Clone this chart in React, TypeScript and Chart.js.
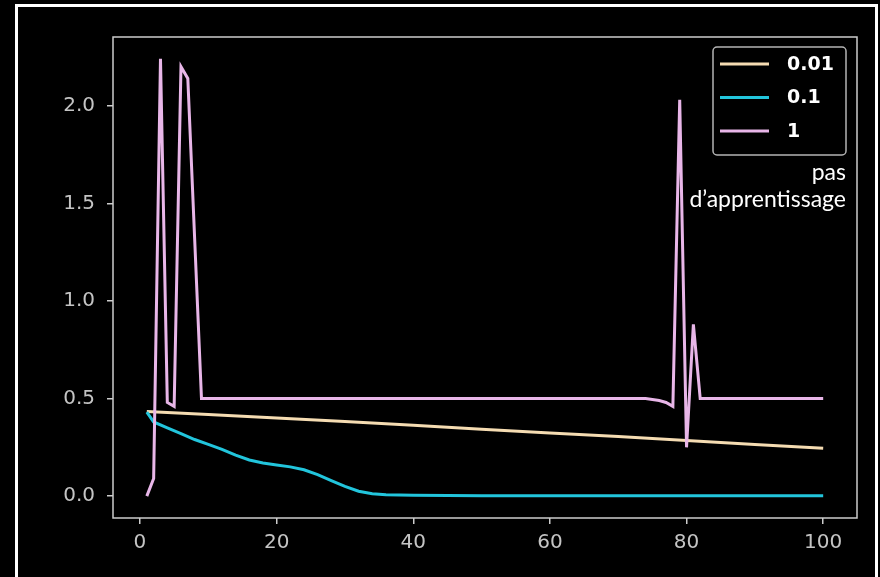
import React, { useEffect, useRef } from "react";
import { Chart, registerables } from "chart.js";

Chart.register(...registerables);

// ---- data ----
const seriesLabels = ["0.01", "0.1", "1"];
const seriesColors = ["#f5dcb2", "#22c5dc", "#e8b6e8"];

const stepsLr001 = [1, 10, 20, 30, 40, 50, 60, 70, 80, 90, 100];
const lossLr001 = [0.434, 0.418, 0.4, 0.382, 0.363, 0.343, 0.324, 0.305, 0.285, 0.265, 0.245];

const stepsLr01 = [1, 2, 4, 6, 8, 10, 12, 14, 16, 18, 20, 22, 24, 26, 28, 30, 32, 34, 36, 40, 50, 60, 70, 80, 90, 100];
const lossLr01 = [0.43, 0.38, 0.35, 0.32, 0.29, 0.265, 0.24, 0.21, 0.185, 0.17, 0.16, 0.15, 0.135, 0.11, 0.08, 0.05, 0.025, 0.012, 0.007, 0.004, 0.002, 0.002, 0.002, 0.002, 0.002, 0.002];

const stepsLr1 = [1, 2, 3, 4, 5, 6, 7, 8, 9, 70, 74, 76, 77, 78, 79, 80, 81, 82, 100];
const lossLr1 = [0.0, 0.09, 2.24, 0.48, 0.46, 2.2, 2.14, 1.32, 0.5, 0.5, 0.5, 0.49, 0.48, 0.46, 2.03, 0.25, 0.88, 0.5, 0.5];

const xTickValues = [0, 20, 40, 60, 80, 100];
const yTickValues = [0, 0.5, 1.0, 1.5, 2.0];
const legendTitleLines = ["pas", "d\u2019apprentissage"];

const allSteps = [stepsLr001, stepsLr01, stepsLr1];
const allLoss = [lossLr001, lossLr01, lossLr1];

const TICK_COLOR = "#c4c4c4";
const FONT = "'DejaVu Sans', sans-serif";

const bgPlugin = {
  id: "bgFill",
  beforeDraw(chart: any) {
    const { ctx, width, height } = chart;
    ctx.save();
    ctx.fillStyle = "#000";
    ctx.fillRect(0, 0, width, height);
    ctx.restore();
  },
};

const framePlugin = {
  id: "frame",
  afterDatasetsDraw(chart: any) {
    const { ctx, chartArea } = chart;
    ctx.save();
    ctx.strokeStyle = "#cccccc";
    ctx.lineWidth = 1.5;
    ctx.strokeRect(chartArea.left, chartArea.top, chartArea.right - chartArea.left, chartArea.bottom - chartArea.top);
    ctx.restore();
  },
};

const legendPlugin = {
  id: "boxLegend",
  afterDraw(chart: any) {
    const { ctx, chartArea } = chart;
    const right = chartArea.right - 11;
    const top = chartArea.top + 10;
    const w = 133;
    const h = 108;
    const left = right - w;
    ctx.save();
    ctx.fillStyle = "#000";
    ctx.strokeStyle = "#b4b4b4";
    ctx.lineWidth = 1.5;
    ctx.beginPath();
    ctx.roundRect(left, top, w, h, 4);
    ctx.fill();
    ctx.stroke();
    chart.data.datasets.forEach((ds: any, i: number) => {
      const y = top + 17 + i * 33.5;
      ctx.strokeStyle = ds.borderColor;
      ctx.lineWidth = 3;
      ctx.beginPath();
      ctx.moveTo(left + 7, y);
      ctx.lineTo(left + 56, y);
      ctx.stroke();
      ctx.fillStyle = "#ffffff";
      ctx.font = `bold 19px ${FONT}`;
      ctx.textAlign = "left";
      ctx.textBaseline = "middle";
      ctx.fillText(ds.label, left + 74, y + 1);
    });
    ctx.fillStyle = "#ffffff";
    ctx.font = "23px Lato, sans-serif";
    ctx.textAlign = "right";
    ctx.textBaseline = "alphabetic";
    legendTitleLines.forEach((t, i) => {
      ctx.fillText(t, right, top + 133 + i * 27);
    });
    ctx.restore();
  },
};

export default function App() {
  const canvasRef = useRef<HTMLCanvasElement | null>(null);

  useEffect(() => {
    const canvas = canvasRef.current;
    if (!canvas) return;

    const xs = allSteps.flat();
    const ys = allLoss.flat();
    const xMinD = Math.min(...xs), xMaxD = Math.max(...xs);
    const yMinD = Math.min(...ys), yMaxD = Math.max(...ys);
    const xPad = (xMaxD - xMinD) * 0.05;
    const yPad = (yMaxD - yMinD) * 0.05;

    const datasets = seriesLabels.map((label, i) => ({
      label,
      data: allSteps[i].map((x, j) => ({ x, y: allLoss[i][j] })),
      borderColor: seriesColors[i],
      backgroundColor: seriesColors[i],
      borderWidth: 3,
      pointRadius: 0,
      fill: false,
      tension: 0,
      order: seriesLabels.length - i,
    }));

    const gridOpts = {
      drawOnChartArea: false,
      drawTicks: true,
      tickLength: 6,
      color: "#cccccc",
      lineWidth: 1.5,
    };

    const chart = new Chart(canvas, {
      type: "line",
      data: { datasets },
      options: {
        animation: false,
        responsive: false,
        maintainAspectRatio: false,
        layout: { padding: { top: 37, right: 23, left: 0, bottom: 0 } },
        plugins: { legend: { display: false }, tooltip: { enabled: false } },
        scales: {
          x: {
            type: "linear",
            min: xMinD - xPad,
            max: xMaxD + xPad,
            afterBuildTicks: (s: any) => {
              s.ticks = xTickValues.map((v) => ({ value: v }));
            },
            afterFit: (s: any) => {
              s.height = 59;
            },
            grid: gridOpts,
            border: { display: false },
            ticks: {
              color: TICK_COLOR,
              font: { family: FONT, size: 20 },
              padding: 7,
              autoSkip: false,
              maxRotation: 0,
              callback: (v: any) => String(v),
            },
          },
          y: {
            type: "linear",
            min: yMinD - yPad,
            max: yMaxD + yPad,
            afterBuildTicks: (s: any) => {
              s.ticks = yTickValues.map((v) => ({ value: v }));
            },
            afterFit: (s: any) => {
              s.width = 113;
            },
            grid: gridOpts,
            border: { display: false },
            ticks: {
              color: TICK_COLOR,
              font: { family: FONT, size: 20 },
              padding: 12,
              autoSkip: false,
              callback: (v: any) => Number(v).toFixed(1),
            },
          },
        },
      },
      plugins: [bgPlugin, framePlugin, legendPlugin],
    } as any);

    return () => chart.destroy();
  }, []);

  return (
    <div style={{ position: "fixed", left: 0, top: 0, width: 880, height: 577, background: "#000", overflow: "hidden" }}>
      <canvas ref={canvasRef} width={880} height={577} style={{ display: "block", width: 880, height: 577 }} />
      <div
        style={{
          position: "absolute",
          left: 15,
          top: 4,
          width: 857,
          height: 600,
          borderTop: "3px solid #fff",
          borderLeft: "3px solid #fff",
          borderRight: "3px solid #fff",
          pointerEvents: "none",
        }}
      />
    </div>
  );
}
